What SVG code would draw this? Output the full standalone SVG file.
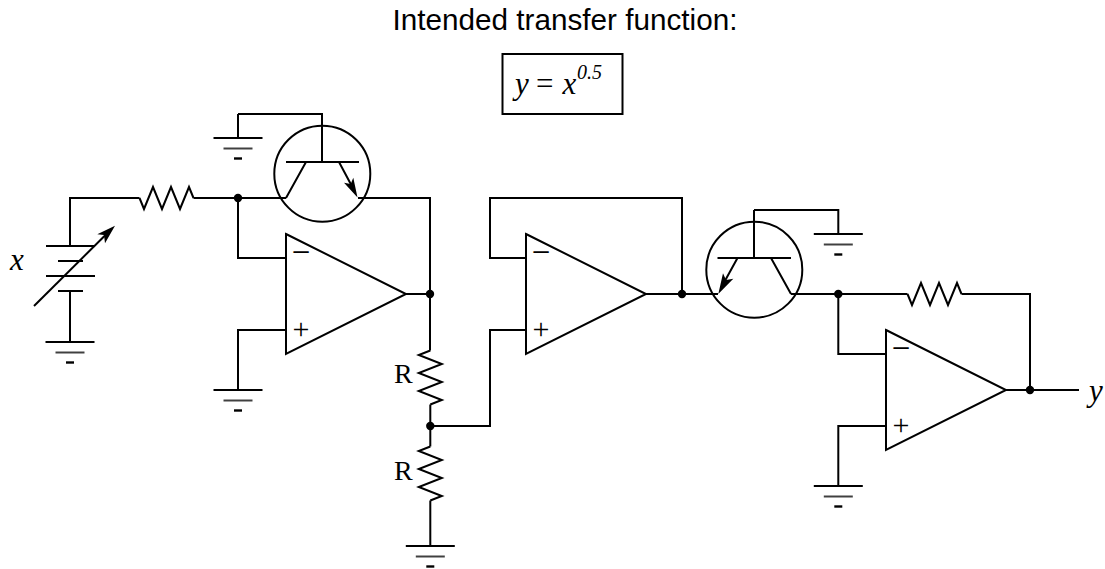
<svg xmlns="http://www.w3.org/2000/svg" xmlns:xlink="http://www.w3.org/1999/xlink" width="1105" height="569" viewBox="0 0 1105 569">
<style>
.w{fill:none;stroke:#000;stroke-width:2;stroke-linejoin:miter}
.o{fill:#fff;stroke:#000;stroke-width:2}
.d{fill:#000;stroke:none}
.s{font-family:"Liberation Serif",serif;fill:#000}
.i{font-family:"Liberation Serif",serif;font-style:italic;fill:#000}
.a{font-family:"Liberation Sans",sans-serif;fill:#000}
.sign{font-size:30px;text-anchor:middle}
.minus{font-size:33px;text-anchor:middle}
</style>
<defs>
<g id="gnd"><path class="w" d="M-24.5 0H24.5"/><path class="w" d="M-14.5 10.5H14.5" stroke-opacity=".75"/><path d="M-4 20.5H4" fill="none" stroke="#000" stroke-width="2.4"/></g>
<path id="rh" class="w" d="M0 0L4.500 11L13.500-11L22.500 11L31.500-11L40.500 11L49.500-11L54 0"/>
<path id="rv" class="w" d="M0 0L-11.500 4.500L11.500 13.500L-11.500 22.500L11.500 31.500L-11.500 40.500L11.500 49.500L0 54"/>
<g id="opamp"><path class="o" d="M0 0L120 60L0 120Z"/></g>
</defs>
<g id="connectors">
<path class="w" d="M70 246V198H139.500M193.500 198H286M238 198V258H286M286 330H238V390M238 114V138M238 114H322V162M358 198H430V350.500M406 294H430M430.300 404.500V446.500M430 426H490V330H526M430.300 500.500V546"/>
<path class="w" d="M70 291V342M526 258H490V198H682V294M646 294H718M791 294H907.500M754 210V258M754 210H838.300V234M961.500 294H1030V390M838.300 294V354H886M886 426H838.300V486M1006 390H1079"/>
</g>
<g id="title"><text class="a" x="392.500" y="30" font-size="29.700">Intended transfer function:</text></g>
<g id="formula"><rect x="502.500" y="54" width="120" height="60" fill="none" stroke="#000" stroke-width="2"/>
<text class="i" x="515" y="94" font-size="31">y</text><text class="s" x="536" y="94" font-size="31">=</text><text class="i" x="562.500" y="94" font-size="31">x</text><text class="i" x="577" y="79" font-size="20">0.5</text></g>
<g id="source-x">
<path class="w" d="M46 246H95M58 261H83M46 276H95M58 291H83"/>
<path class="w" d="M34 306L106 234.500"/><path class="d" d="M115 225.700L105 243.300L104 235L97.300 234.300Z"/>
<text class="i" x="10" y="270" font-size="31">x</text>
<use xlink:href="#gnd" href="#gnd" x="70" y="342"/>
</g>
<g id="r-in"><use xlink:href="#rh" href="#rh" x="139.500" y="198"/></g>
<g id="q1">
<circle class="w" cx="322.300" cy="173.700" r="48"/>
<path class="w" d="M286 162H359M306 162L286 198M339 162L355 192"/>
<path class="d" d="M357.500 197.500L344 182.700L350.700 184L353.300 177.700Z"/>
<use xlink:href="#gnd" href="#gnd" x="238" y="138"/>
</g>
<g id="opamp1"><use xlink:href="#opamp" href="#opamp" x="286" y="234"/>
<text class="s minus" x="301" y="263">−</text><text class="s sign" x="301" y="339">+</text>
<use xlink:href="#gnd" href="#gnd" x="238" y="390"/></g>
<g id="r1"><use xlink:href="#rv" href="#rv" x="430.300" y="350.500"/><text class="s" x="394" y="383" font-size="28">R</text></g>
<g id="r2"><use xlink:href="#rv" href="#rv" x="430.300" y="446.500"/><text class="s" x="394" y="480" font-size="28">R</text>
<use xlink:href="#gnd" href="#gnd" x="430.300" y="546"/></g>
<g id="opamp2"><use xlink:href="#opamp" href="#opamp" x="526" y="234"/>
<text class="s minus" x="541" y="263">−</text><text class="s sign" x="541" y="339">+</text></g>
<g id="q2">
<circle class="w" cx="754.300" cy="269.700" r="48"/>
<path class="w" d="M717.500 258H791M737.500 258L721 288M771 258L791 294"/>
<path class="d" d="M718.300 294L723 273.300L726 280L733.300 278.700Z"/>
<use xlink:href="#gnd" href="#gnd" x="838.300" y="234"/>
</g>
<g id="r-fb"><use xlink:href="#rh" href="#rh" x="907.500" y="294"/></g>
<g id="opamp3"><use xlink:href="#opamp" href="#opamp" x="886" y="330"/>
<text class="s minus" x="901" y="359">−</text><text class="s sign" x="901" y="435">+</text>
<use xlink:href="#gnd" href="#gnd" x="838.300" y="486"/>
<text class="i" x="1089" y="401" font-size="31">y</text></g>
<g id="junctions">
<circle class="d" cx="238" cy="198" r="4.200"/><circle class="d" cx="430" cy="294" r="4.200"/><circle class="d" cx="430.300" cy="426" r="4.200"/><circle class="d" cx="682" cy="294" r="4.200"/><circle class="d" cx="838.300" cy="294" r="4.200"/><circle class="d" cx="1030" cy="390" r="4.200"/>
</g>
</svg>
